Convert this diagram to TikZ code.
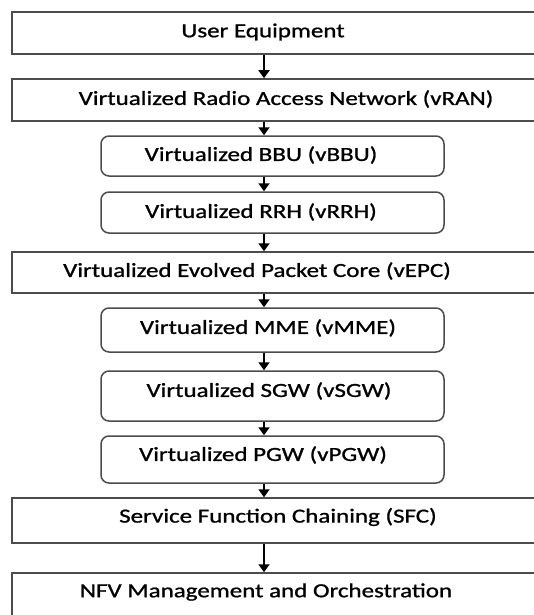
\documentclass[tikz,border=0pt]{standalone}
\usepackage{fontspec}
\usepackage{graphicx}
\setmainfont{Carlito}
\newfontfamily\heavyfont[FakeBold=0.9]{Carlito}
\usetikzlibrary{arrows.meta}
\newcommand{\wide}[1]{\scalebox{1.25}[1]{#1}}
\tikzset{
  outerbox/.style={draw=black!70, line width=1.5pt, rectangle, minimum width=548pt, inner sep=0pt},
  innerbox/.style={draw=black!70, line width=1.5pt, rectangle, rounded corners=8pt, minimum width=343pt, inner sep=0pt},
  label/.style={font=\heavyfont\fontsize{20}{22}\selectfont, text=black, inner sep=0pt},
  flow/.style={-{Triangle[length=8pt,width=11pt]}, line width=1.8pt, black}
}
\begin{document}
\begin{tikzpicture}[x=1pt,y=-1pt]
\useasboundingbox (0,0) rectangle (534,615);
\clip (0,0) rectangle (534,615);
\fill[white] (0,0) rectangle (534,615);
\coordinate (ax) at (264,0);
% boxes
\node[outerbox, minimum height=42pt] (ue) at (286,33) {};
\node[outerbox, minimum height=42pt] (vran) at (286,100) {};
\node[innerbox, minimum height=40pt] (vbbu) at (272.5,156) {};
\node[innerbox, minimum height=41pt] (vrrh) at (272.5,212.5) {};
\node[outerbox, minimum height=41pt] (vepc) at (286,272.5) {};
\node[innerbox, minimum height=44pt] (vmme) at (272.5,330) {};
\node[innerbox, minimum height=50pt] (vsgw) at (272.5,396) {};
\node[innerbox, minimum height=47pt] (vpgw) at (272.5,459.5) {};
\node[outerbox, minimum height=45pt] (sfc) at (286,520.5) {};
\node[outerbox, minimum height=67pt] (nfv) at (286,606.5) {};
% texts
\node[label] (tue) at (263,32) {\wide{User Equipment}};
\node[label] (tvran) at (286,99) {\wide{Virtualized Radio Access Network (vRAN)}};
\node[label] (tvbbu) at (261,155) {\wide{Virtualized BBU (vBBU)}};
\node[label] (tvrrh) at (261,212) {\wide{Virtualized RRH (vRRH)}};
\node[label] (tvepc) at (257,271) {\wide{Virtualized Evolved Packet Core (vEPC)}};
\node[label] (tvmme) at (268,328) {\wide{Virtualized MME (vMME)}};
\node[label] (tvsgw) at (269,391) {\wide{Virtualized SGW (vSGW)}};
\node[label] (tvpgw) at (263,455) {\wide{Virtualized PGW (vPGW)}};
\node[label] (tsfc) at (278,517) {\wide{Service Function Chaining (SFC)}};
\node[label] (tnfv) at (266,592) {\wide{NFV Management and Orchestration}};
% arrows
\draw[flow] (ue.south -| ax) -- (vran.north -| ax);
\draw[flow] (vran.south -| ax) -- (vbbu.north -| ax);
\draw[flow] (vbbu.south -| ax) -- (vrrh.north -| ax);
\draw[flow] (vrrh.south -| ax) -- (vepc.north -| ax);
\draw[flow] (vepc.south -| ax) -- (vmme.north -| ax);
\draw[flow] (vmme.south -| ax) -- (vsgw.north -| ax);
\draw[flow] (vsgw.south -| ax) -- (vpgw.north -| ax);
\draw[flow] (vpgw.south -| ax) -- (sfc.north -| ax);
\draw[flow] (sfc.south -| ax) -- (nfv.north -| ax);
\end{tikzpicture}
\end{document}
